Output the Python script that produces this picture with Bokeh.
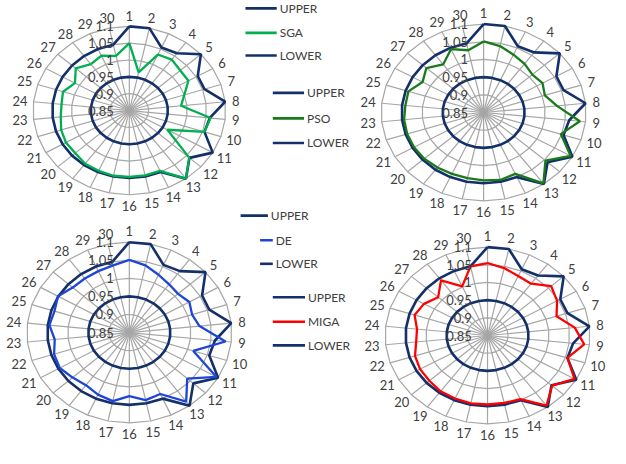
import numpy as np
from bokeh.plotting import figure
from bokeh.models import Range1d
from bokeh.embed import file_html
from bokeh.resources import INLINE
from bokeh.core.properties import value

# ---------------- data ----------------
axis_labels = [str(i) for i in range(1, 31)]
ring_values = [0.9, 0.95, 1.0, 1.05, 1.1]
tick_values = [0.85, 0.9, 0.95, 1.0, 1.05, 1.1]
tick_labels = ["0.85", "0.9", "0.95", "1", "1.05", "1.1"]
r_min, r_max = 0.85, 1.1

upper = [1.1, 1.1, 1.055, 1.06, 1.1, 1.055, 1.055, 1.1, 1.06, 1.055,
         1.1, 1.06, 1.1, 1.05, 1.05, 1.05, 1.05, 1.05, 1.05, 1.05,
         1.05, 1.05, 1.05, 1.05, 1.05, 1.05, 1.05, 1.05, 1.05, 1.05]
lower = [0.95] * 30
sga = [1.05, 0.966, 1.032, 1.037, 1.028, 1.027, 1.0, 0.985, 1.062, 1.055,
       0.964, 1.059, 1.1, 1.046, 1.047, 1.047, 1.048, 1.046, 1.045, 1.039,
       1.04, 1.036, 1.029, 1.027, 1.031, 1.013, 1.037, 1.02, 1.028, 1.016]
pso = [1.051, 1.042, 1.029, 1.02, 1.01, 1.016, 1.007, 1.03, 1.086, 1.048,
       1.095, 1.053, 1.098, 1.04, 1.045, 1.042, 1.04, 1.04, 1.042, 1.045,
       1.046, 1.046, 1.045, 1.042, 1.043, 1.022, 1.038, 1.018, 1.046, 1.03]
de = [1.051, 1.04, 1.025, 1.015, 1.01, 1.019, 1.011, 1.022, 1.086, 1.014,
      1.095, 1.04, 1.086, 1.036, 1.041, 1.026, 1.044, 1.038, 1.03, 1.036,
      1.046, 1.043, 1.033, 1.046, 1.042, 1.051, 1.036, 1.035, 1.036, 1.04]
miga = [1.055, 1.045, 1.034, 1.031, 1.059, 1.046, 1.027, 1.064, 1.087, 1.055,
        1.095, 1.062, 1.095, 1.047, 1.045, 1.045, 1.046, 1.045, 1.045, 1.041,
        1.04, 1.036, 1.025, 1.023, 1.037, 1.029, 1.012, 1.043, 1.002, 1.05]

NAVY = "#14306a"
GRID = "#a6a6a6"
TXT = "#404040"
FONT = "Lato"

p = figure(width=610, height=448, x_range=Range1d(4, 629), y_range=Range1d(463, 7),
           toolbar_location=None, output_backend="svg", min_border=0,
           x_axis_location=None, y_axis_location=None)
p.grid.visible = False
p.outline_line_color = None
p.background_fill_color = "white"

theta = np.arange(30) * 2 * np.pi / 30


def pts(vals, cx, cy, hx, vy):
    r = (np.asarray(vals, dtype=float) - r_min) / (r_max - r_min)
    x = cx + hx * r * np.sin(theta)
    y = cy - vy * r * np.cos(theta)
    return list(x) + [x[0]], list(y) + [y[0]]


def radar(cx, cy, hx, vy, vals, color):
    xs, ys = [], []
    for rv in ring_values:
        x, y = pts([rv] * 30, cx, cy, hx, vy)
        xs.append(x); ys.append(y)
    p.multi_line(xs, ys, line_color=GRID, line_width=1.2)
    ox, oy = pts([r_max] * 30, cx, cy, hx, vy)
    p.segment([cx] * 30, [cy] * 30, ox[:30], oy[:30], line_color=GRID, line_width=1.2)
    x, y = pts(upper, cx, cy, hx, vy)
    p.line(x, y, line_color=NAVY, line_width=2.6)
    x, y = pts(vals, cx, cy, hx, vy)
    p.line(x, y, line_color=color, line_width=2.3)
    x, y = pts(lower, cx, cy, hx, vy)
    p.line(x, y, line_color=NAVY, line_width=2.6)
    lx = [cx + (hx + 11 + (3 if len(s) > 1 else 0) * abs(np.sin(t))) * np.sin(t)
          for s, t in zip(axis_labels, theta)]
    ly = [cy - (vy + 11) * np.cos(t) for t in theta]
    p.text(lx, ly, text=axis_labels, text_align="center", text_baseline="middle",
           text_font=value(FONT), text_font_size="13px", text_color=TXT)
    tx = [cx - 16] * len(tick_values)
    ty = [cy - vy * (v - r_min) / (r_max - r_min) for v in tick_values]
    p.text(tx, ty, text=tick_labels, text_align="right", text_baseline="middle",
           text_font=value(FONT), text_font_size="13px", text_color=TXT)


radar(136, 119, 98.7, 85.7, sga, "#00b050")
radar(499, 121, 105, 90, pso, "#1a7a1a")
radar(136, 345, 105, 92, de, "#1f45d8")
radar(503, 348, 105, 90, miga, "#ff0000")


def legend(x0s, x1s, tx, ys, names, colors):
    p.segment(x0s, ys, x1s, ys, line_color=colors, line_width=2.6)
    p.text(tx, ys, text=names, text_align="left", text_baseline="middle",
           text_font=value(FONT), text_font_size="12px", text_color=TXT)


legend([255] * 3, [287] * 3, [290] * 3, [15, 40, 63], ["UPPER", "SGA", "LOWER"],
       [NAVY, "#00b050", NAVY])
legend([283] * 3, [315] * 3, [318] * 3, [101, 127, 152], ["UPPER", "PSO", "LOWER"],
       [NAVY, "#1a7a1a", NAVY])
legend([250, 270, 270], [278, 283, 283], [281, 286, 286], [226, 251, 275],
       ["UPPER", "DE", "LOWER"], [NAVY, "#1f45d8", NAVY])
legend([283] * 3, [316] * 3, [319] * 3, [309, 334, 358], ["UPPER", "MIGA", "LOWER"],
       [NAVY, "#ff0000", NAVY])

open("out.html", "w").write(file_html(p, INLINE))
